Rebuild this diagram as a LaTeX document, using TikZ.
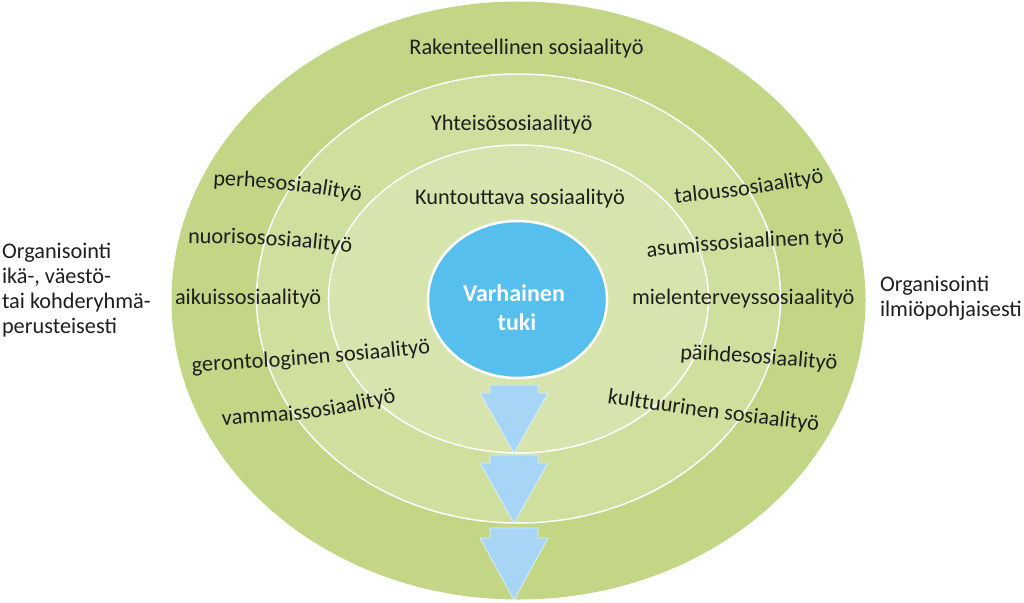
\documentclass[tikz,border=0pt]{standalone}
\usepackage{fontspec}
\setmainfont{Carlito}
\usetikzlibrary{shapes.geometric,decorations.text}
\definecolor{ringOuter}{RGB}{195,214,134}
\definecolor{ringMid}{RGB}{207,223,157}
\definecolor{ringInner}{RGB}{215,228,173}
\definecolor{coreBlue}{RGB}{86,191,238}
\definecolor{arrowBlue}{RGB}{166,213,245}
\definecolor{txt}{RGB}{30,30,30}
\newcommand\ringfont{\fontsize{22.3}{25}\selectfont}
\newcommand\corefont{\fontsize{24}{28}\selectfont\bfseries}
\begin{document}
\begin{tikzpicture}[x=1pt,y=1pt,
  ring/.style={ellipse, inner sep=0pt, outer sep=0pt},
  ringline/.style={draw=white, line width=1.5pt},
  lbl/.style={inner sep=0pt, outer sep=0pt, text=txt, font=\ringfont},
  corelbl/.style={inner sep=0pt, outer sep=0pt, text=white, font=\corefont},
  arrowshape/.style={fill=arrowBlue, draw=white!60!arrowBlue, line width=0.8pt, line join=miter},
  curvetext/.style={decorate, decoration={text along path, text align=left, text color=txt, text={|\ringfont|#1}}}]
\useasboundingbox (0,0) rectangle (1024,-602);
\begin{scope}
\clip (0,0) rectangle (1024,-602);
% rings
\node[ring, fill=ringOuter, minimum width=694pt, minimum height=598pt] (outer) at (518.5,-300.5) {};
\node[ring, fill=ringMid, ringline, minimum width=524pt, minimum height=449pt] (middle) at (518.5,-298.5) {};
\node[ring, fill=ringInner, ringline, minimum width=380pt, minimum height=308pt] (inner) at (518.5,-299) {};
% arrows
\path[arrowshape] (490,-385) -- (538,-385) -- (538,-393) -- (548,-393) -- (514,-453) -- (480,-393) -- (490,-393) -- cycle;
\path[arrowshape] (490,-455) -- (538,-455) -- (538,-463) -- (548,-463) -- (514,-523) -- (480,-463) -- (490,-463) -- cycle;
\path[arrowshape] (490,-528) -- (538,-528) -- (538,-538) -- (548,-538) -- (514,-600) -- (480,-538) -- (490,-538) -- cycle;
\end{scope}
% core
\node[ring, fill=coreBlue, draw=white, line width=2.5pt, minimum width=179pt, minimum height=157pt] (core) at (517.5,-299.5) {};
\node[corelbl, anchor=base] (core1) at (514,-301.7) {Varhainen};
\node[corelbl, anchor=base] (core2) at (517,-330) {tuki};
% straight ring titles
\node[lbl, anchor=base] (rak) at (526.5,-55) {Rakenteellinen sosiaalityö};
\node[lbl, anchor=base] (yht) at (511.7,-130) {Yhteisösosiaalityö};
\node[lbl, anchor=base] (kun) at (520,-204) {Kuntouttava sosiaalityö};
\node[lbl, anchor=base west] (aik) at (175,-304) {aikuissosiaalityö};
\node[lbl, anchor=base west] (mie) at (632,-304) {mielenterveyssosiaalityö};
% curved labels
\path[curvetext={perhesosiaalityö}] (213,-185) .. controls (292.5,-189.75) .. (362,-201.5) -- ++(40,-7);
\path[curvetext={nuorisososiaalityö}] (188,-243) .. controls (271,-244.5) .. (350,-252.5) -- ++(40,-5);
\path[curvetext={gerontologinen sosiaalityö}] (192,-372) .. controls (312,-365) .. (432,-353) -- ++(40,-4);
\path[curvetext={vammaissosiaalityö}] (222,-425) .. controls (310,-420.5) .. (398,-402) -- ++(40,-10);
\path[curvetext={taloussosiaalityö}] (675,-203) .. controls (750,-195.5) .. (825,-182) -- ++(40,-7);
\path[curvetext={asumissosiaalinen työ}] (647,-257) .. controls (747,-247.5) .. (847,-244) -- ++(40,-1);
\path[curvetext={päihdesosiaalityö}] (680,-359) .. controls (759,-363.5) .. (838,-370) -- ++(40,-3);
\path[curvetext={kulttuurinen sosiaalityö}] (607,-403) .. controls (713,-419) .. (820,-431) -- ++(40,-5);
% side labels
\node[lbl, anchor=base west] (l1) at (2,-258) {Organisointi};
\node[lbl, anchor=base west] (l2) at (2,-283) {ikä-, väestö-};
\node[lbl, anchor=base west] (l3) at (2,-308) {tai kohderyhmä-};
\node[lbl, anchor=base west] (l4) at (2,-333) {perusteisesti};
\node[lbl, anchor=base west] (r1) at (880,-291.7) {Organisointi};
\node[lbl, anchor=base west] (r2) at (880,-316.7) {ilmiöpohjaisesti};
\end{tikzpicture}
\end{document}
